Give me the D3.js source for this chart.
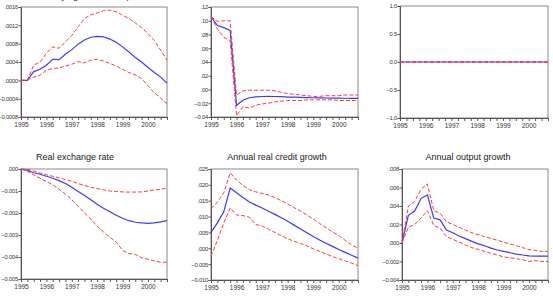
<!DOCTYPE html>
<html>
<head>
<meta charset="utf-8">
<script src="https://cdn.jsdelivr.net/npm/d3@7"></script>
<style>
  body { margin: 0; background: #fff; }
  svg { display: block; font-family: "Liberation Sans", Arial, sans-serif; }
  .tick text { fill: #333; }
</style>
</head>
<body>
<div id="chart"></div>
<script>
// quarters 1995Q1 .. 2000Q4
const quarters = d3.range(24);
const yearLabels = ["1995", "1996", "1997", "1998", "1999", "2000"];

// panel titles (first one is clipped off the top of the picture)
const titles = ["Underlying inflation response", "", "", "Real exchange rate", "Annual real credit growth", "Annual output growth"];

// panel 1
const p1Mid = [0, 0, 0.00019, 0.00024, 0.00033, 0.00046, 0.00045, 0.00057, 0.00067, 0.00079, 0.00088, 0.00094,
  0.00096, 0.00095, 0.0009, 0.00083, 0.00073, 0.00062, 0.0005, 0.0004, 0.00028, 0.00017, 0.00007, -0.00006];
const p1Up = [0, 0, 0.00033, 0.0004, 0.00059, 0.00073, 0.0007, 0.00084, 0.00098, 0.00117, 0.00135, 0.00143,
  0.00147, 0.00152, 0.00153, 0.0015, 0.00142, 0.00135, 0.00125, 0.00115, 0.00102, 0.00087, 0.00066, 0.00044];
const p1Lo = [0, 0, 0.00007, 0.00011, 0.00022, 0.00026, 0.00027, 0.00031, 0.00035, 0.00041, 0.00038, 0.00044,
  0.00046, 0.00042, 0.00037, 0.00031, 0.00024, 0.00017, 0.00012, 0.00004, -0.00012, -0.00027, -0.00039, -0.00051];

// panel 2
const p2Mid = [0.106, 0.093, 0.09, 0.086, -0.023, -0.0156, -0.012, -0.0107, -0.0102, -0.01, -0.0102, -0.0105,
  -0.011, -0.0112, -0.0115, -0.0118, -0.012, -0.0122, -0.0124, -0.0125, -0.0126, -0.0127, -0.0128, -0.013];
const p2Up = [0.106, 0.099, 0.1, 0.1, -0.008, -0.002, -0.001, -0.0012, -0.001, -0.001, -0.002, -0.004,
  -0.006, -0.007, -0.008, -0.009, -0.01, -0.01, -0.009, -0.009, -0.009, -0.008, -0.008, -0.008];
const p2Lo = [0.106, 0.088, 0.076, 0.071, -0.038, -0.025, -0.027, -0.023, -0.021, -0.02, -0.018, -0.017,
  -0.016, -0.016, -0.016, -0.015, -0.015, -0.015, -0.015, -0.015, -0.016, -0.016, -0.016, -0.016];

// panel 3 (flat at zero)
const p3Mid = quarters.map(() => 0);
const p3Up = quarters.map(() => 0);
const p3Lo = quarters.map(() => 0);

// panel 4
const p4Mid = [0, -0.00006, -0.00017, -0.00024, -0.00033, -0.00042, -0.00053, -0.00066, -0.00083, -0.00102, -0.0012, -0.0014,
  -0.0016, -0.00178, -0.00194, -0.0021, -0.00224, -0.00235, -0.00242, -0.00245, -0.00247, -0.00245, -0.0024, -0.00235];
const p4Up = [0, -0.00001, -0.00009, -0.00018, -0.00026, -0.00033, -0.0004, -0.00048, -0.00056, -0.00066, -0.00075, -0.00083,
  -0.00089, -0.00095, -0.001, -0.00102, -0.00104, -0.00105, -0.00105, -0.00104, -0.001, -0.00095, -0.00092, -0.00086];
const p4Lo = [0, -0.0001, -0.00027, -0.00042, -0.00057, -0.00072, -0.00092, -0.00114, -0.0014, -0.0017, -0.002, -0.00227,
  -0.0026, -0.00286, -0.0031, -0.00332, -0.0037, -0.00384, -0.00388, -0.00403, -0.0041, -0.00418, -0.00424, -0.00424];

// panel 5
const p5Mid = [0.005, 0.008, 0.0115, 0.019, 0.0175, 0.016, 0.0146, 0.0136, 0.0127, 0.0117, 0.0107, 0.0096,
  0.0085, 0.0073, 0.0061, 0.0049, 0.0037, 0.0026, 0.0016, 0.0006, -0.0004, -0.0013, -0.0022, -0.0031];
const p5Up = [0.0125, 0.0145, 0.0175, 0.0238, 0.0215, 0.0198, 0.0185, 0.0178, 0.0173, 0.0168, 0.016, 0.015,
  0.014, 0.0128, 0.0118, 0.0105, 0.0092, 0.0078, 0.0065, 0.0052, 0.004, 0.0025, 0.001, 0.0001];
const p5Lo = [-0.0025, 0.0025, 0.008, 0.0127, 0.0105, 0.0103, 0.0098, 0.0075, 0.007, 0.006, 0.005, 0.004,
  0.003, 0.0022, 0.0015, 0.0008, -0.0002, -0.001, -0.0018, -0.0026, -0.0033, -0.004, -0.0047, -0.0055];

// panel 6
const p6Mid = [0, 0.003, 0.00345, 0.0048, 0.0052, 0.0027, 0.0025, 0.0014, 0.0011, 0.00076, 0.00047, 0.00018,
  -0.0001, -0.0003, -0.00055, -0.00076, -0.0009, -0.00105, -0.0012, -0.0013, -0.0014, -0.00142, -0.00142, -0.00142];
const p6Up = [0, 0.004, 0.0045, 0.0058, 0.0064, 0.0035, 0.0032, 0.0023, 0.002, 0.0017, 0.0014, 0.0011,
  0.0009, 0.0007, 0.0005, 0.0003, 0.0001, -0.0001, -0.0003, -0.0005, -0.0007, -0.0008, -0.0009, -0.0009];
const p6Lo = [0, 0.0017, 0.002, 0.0027, 0.0035, 0.0019, 0.0016, 0.0007, 0.0004, 0.0001, -0.0002, -0.0005,
  -0.0007, -0.0009, -0.0011, -0.0013, -0.0015, -0.0016, -0.0017, -0.0018, -0.002, -0.0019, -0.002, -0.002];

// y tick values per panel
const yTicks1 = [-0.0008, -0.0004, 0, 0.0004, 0.0008, 0.0012, 0.0016];
const yTicks2 = [-0.04, -0.02, 0, 0.02, 0.04, 0.06, 0.08, 0.10, 0.12];
const yTicks3 = [-1, -0.5, 0, 0.5, 1];
const yTicks4 = [-0.005, -0.004, -0.003, -0.002, -0.001, 0];
const yTicks5 = [-0.010, -0.005, 0, 0.005, 0.010, 0.015, 0.020, 0.025];
const yTicks6 = [-0.004, -0.002, 0, 0.002, 0.004, 0.006, 0.008];

const panels = [
  { box: [21, 167, 7, 117], ticks: yTicks1, dec: 4, mid: p1Mid, up: p1Up, lo: p1Lo, title: titles[0], tx: 93, ty: -1 },
  { box: [211, 358, 7, 117], ticks: yTicks2, dec: 2, mid: p2Mid, up: p2Up, lo: p2Lo, title: titles[1] },
  { box: [400, 548, 6, 118], ticks: yTicks3, dec: 1, keepZero: true, mid: p3Mid, up: p3Up, lo: p3Lo, title: titles[2] },
  { box: [21, 167, 169, 279], ticks: yTicks4, dec: 3, mid: p4Mid, up: p4Up, lo: p4Lo, title: titles[3], tx: 75, ty: 160 },
  { box: [211, 358, 169, 280], ticks: yTicks5, dec: 3, mid: p5Mid, up: p5Up, lo: p5Lo, title: titles[4], tx: 277, ty: 160 },
  { box: [402, 548, 169, 280], ticks: yTicks6, dec: 3, mid: p6Mid, up: p6Up, lo: p6Lo, title: titles[5], tx: 468, ty: 160 }
];

const svg = d3.select("#chart").append("svg")
  .attr("width", 553)
  .attr("height", 303);

function fmt(v, dec, keepZero) {
  let s = d3.format("." + dec + "f")(v);
  if (keepZero) return s;
  return s.replace(/^-0\./, "-.").replace(/^0\./, ".");
}

panels.forEach(p => {
  const [x0, x1, y0, y1] = p.box;
  const x = d3.scaleLinear().domain([0, 23]).range([x0, x1]);
  const y = d3.scaleLinear().domain([p.ticks[0], p.ticks[p.ticks.length - 1]]).range([y1, y0]);

  // frame
  svg.append("rect")
    .attr("x", x0).attr("y", y0)
    .attr("width", x1 - x0).attr("height", y1 - y0)
    .attr("fill", "none")
    .attr("stroke", "#8a8a8a")
    .attr("stroke-width", 1);

  // y axis
  const yAxis = svg.append("g")
    .attr("transform", `translate(${x0},0)`)
    .call(d3.axisLeft(y).tickValues(p.ticks).tickSize(2.5).tickPadding(0.5)
      .tickFormat(d => fmt(d, p.dec, p.keepZero)));
  yAxis.select(".domain").attr("stroke", "#555");
  yAxis.selectAll(".tick line").attr("stroke", "#555");
  yAxis.selectAll("text").attr("font-size", 5.8).attr("letter-spacing", -0.2);

  // x axis: quarterly minor ticks, yearly labels
  const xAxis = svg.append("g")
    .attr("transform", `translate(0,${y1})`)
    .call(d3.axisBottom(x).tickValues(quarters).tickSize(3).tickPadding(2)
      .tickFormat(d => d % 4 === 0 ? yearLabels[d / 4] : ""));
  xAxis.select(".domain").attr("stroke", "#555");
  xAxis.selectAll(".tick line").attr("stroke", "#555");
  xAxis.selectAll("text").attr("font-size", 6.5);

  const line = d3.line().x((d, i) => x(i)).y(d => y(d));

  svg.append("path")
    .datum(p.mid)
    .attr("d", line)
    .attr("fill", "none")
    .attr("stroke", "#3a3aff")
    .attr("stroke-width", 1.2);

  [p.up, p.lo].forEach(s => {
    svg.append("path")
      .datum(s)
      .attr("d", line)
      .attr("fill", "none")
      .attr("stroke", "#ff3a3a")
      .attr("stroke-width", 1)
      .attr("stroke-dasharray", "4,2");
  });

  if (p.title) {
    svg.append("text")
      .attr("x", p.tx).attr("y", p.ty)
      .attr("text-anchor", "middle")
      .attr("font-size", 9)
      .attr("fill", "#222")
      .text(p.title);
  }
});
</script>
</body>
</html>
